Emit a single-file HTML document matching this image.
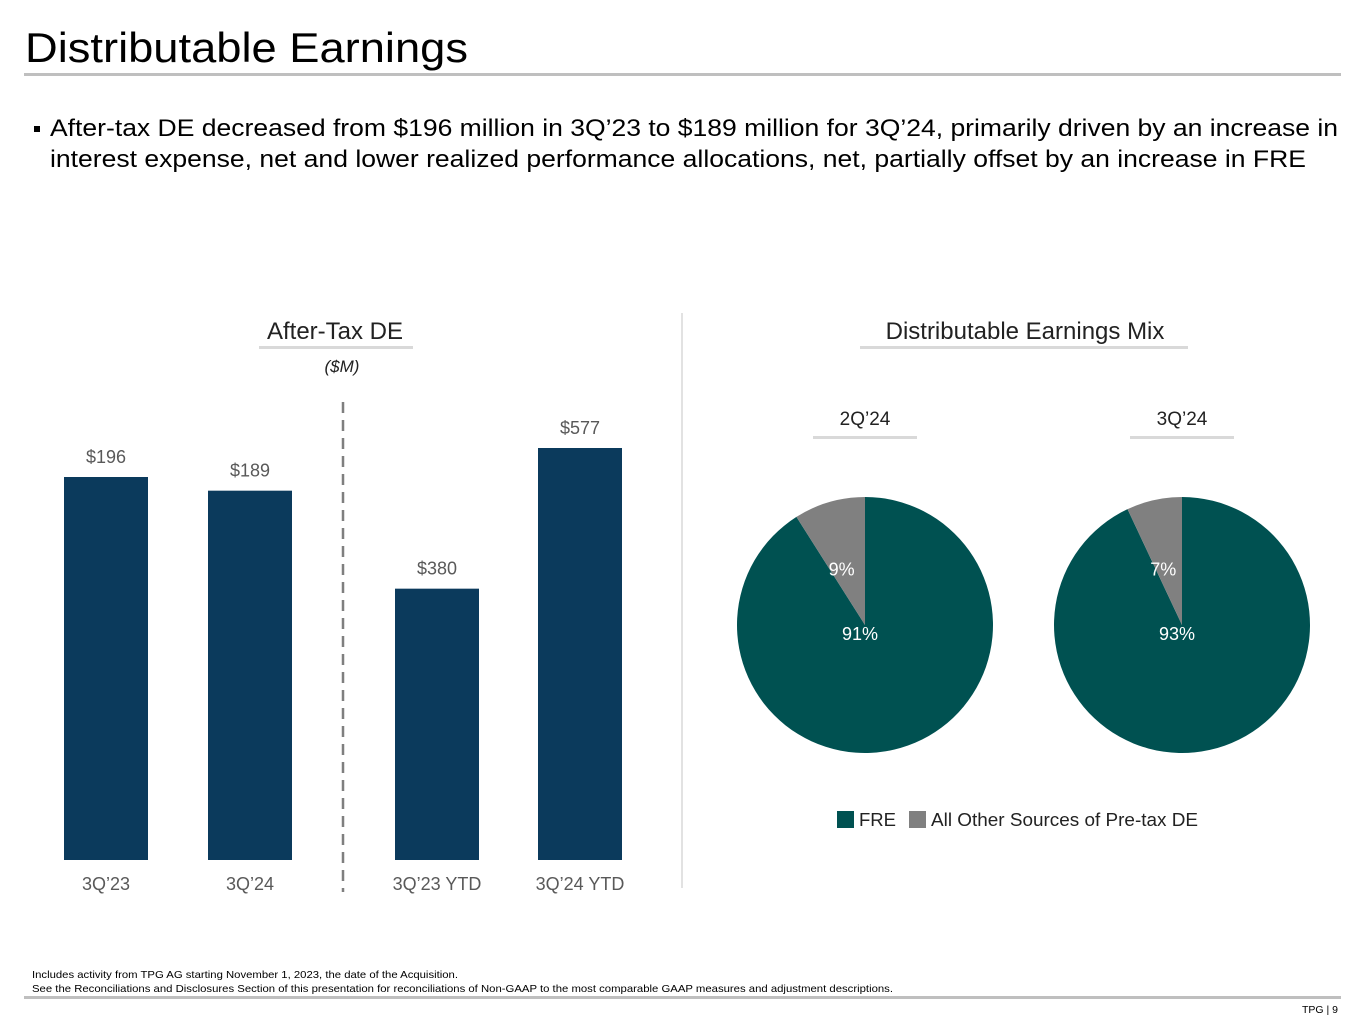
<!DOCTYPE html>
<html><head><meta charset="utf-8"><style>
html,body{margin:0;padding:0;background:#fff;}
svg{display:block;font-family:"Liberation Sans",Arial,sans-serif;}
</style></head><body>
<svg id="s" width="1365" height="1024" viewBox="0 0 1365 1024">
<text x="25" y="62" font-size="42" fill="#000" textLength="443" lengthAdjust="spacingAndGlyphs">Distributable Earnings</text>
<rect x="24" y="73" width="1317" height="3" fill="#bfbfbf"/>
<rect x="34" y="126" width="6" height="6" fill="#000"/>
<text x="50" y="136" font-size="24" fill="#000" textLength="1288" lengthAdjust="spacingAndGlyphs">After-tax DE decreased from $196 million in 3Q’23 to $189 million for 3Q’24, primarily driven by an increase in</text>
<text x="50" y="167" font-size="24" fill="#000" textLength="1256" lengthAdjust="spacingAndGlyphs">interest expense, net and lower realized performance allocations, net, partially offset by an increase in FRE</text>

<text x="335" y="339" font-size="24" fill="#222" text-anchor="middle">After-Tax DE</text>
<rect x="259" y="346" width="154" height="3" fill="#d9d9d9"/>
<text x="342" y="372" font-size="17" font-style="italic" fill="#222" text-anchor="middle">($M)</text>
<line x1="343" y1="402" x2="343" y2="892" stroke="#7f7f7f" stroke-width="2.5" stroke-dasharray="11,7"/>
<g id="bars"></g>

<line x1="682" y1="313" x2="682" y2="888" stroke="#d9d9d9" stroke-width="1.5"/>
<text x="1025" y="339" font-size="24" fill="#222" text-anchor="middle">Distributable Earnings Mix</text>
<rect x="860" y="346" width="328" height="3" fill="#d9d9d9"/>
<g id="pies"></g>

<rect x="837" y="811" width="17" height="17" fill="#005151"/>
<text x="859" y="826" font-size="18" fill="#222" textLength="37" lengthAdjust="spacingAndGlyphs">FRE</text>
<rect x="909" y="811" width="17" height="17" fill="#808080"/>
<text x="931" y="826" font-size="18" fill="#222" textLength="267" lengthAdjust="spacingAndGlyphs">All Other Sources of Pre-tax DE</text>

<text x="32" y="978" font-size="10.5" fill="#000" textLength="426" lengthAdjust="spacingAndGlyphs">Includes activity from TPG AG starting November 1, 2023, the date of the Acquisition.</text>
<text x="32" y="992" font-size="10.5" fill="#000" textLength="861" lengthAdjust="spacingAndGlyphs">See the Reconciliations and Disclosures Section of this presentation for reconciliations of Non-GAAP to the most comparable GAAP measures and adjustment descriptions.</text>
<rect x="24" y="996" width="1317" height="3" fill="#bfbfbf"/>
<text x="1338" y="1013" font-size="10.5" fill="#000" text-anchor="end">TPG | 9</text>
</svg>
<script>
const barCategories = ["3Q’23","3Q’24","3Q’23 YTD","3Q’24 YTD"];
const barValues = [196, 189, 380, 577];
const barGroups = [0, 0, 1, 1];
const pieLabels = ["2Q’24","3Q’24"];
const pieFRE = [91, 93];
const pieOther = [9, 7];

const NS = "http://www.w3.org/2000/svg";
function mk(tag, attrs, parent){const e=document.createElementNS(NS,tag);for(const k in attrs)e.setAttribute(k,attrs[k]);parent.appendChild(e);return e;}
const baseY = 860;
const groupScale = [383/196, 412/577];
function xPos(i){return [64,208,395,538][i];}
const barW = 84;
const bg = document.getElementById("bars");
barValues.forEach((v,i)=>{
  const h = v*groupScale[barGroups[i]];
  const r = mk("rect",{x:xPos(i),y:baseY-h,width:barW,height:h,fill:"#0b3a5c"},bg);
  
  
  const t = mk("text",{x:xPos(i)+barW/2,y:baseY-h-14,"font-size":18,fill:"#595959","text-anchor":"middle"},bg);
  t.textContent = "$"+v;
  
  
  const c = mk("text",{x:xPos(i)+barW/2,y:890,"font-size":18,fill:"#595959","text-anchor":"middle"},bg);
  c.textContent = barCategories[i];
  
  
});

const pg = document.getElementById("pies");
const cxs = [865, 1182], cy = 625, rx = 128, ry = 128;
pieLabels.forEach((lab,i)=>{
  const cx = cxs[i];
  const t = mk("text",{x:cx,y:425,"font-size":19,fill:"#222","text-anchor":"middle"},pg);
  t.textContent = lab;
  
  
  const u = mk("rect",{x:cx-52,y:436,width:104,height:3,fill:"#d9d9d9"},pg);
  
  
  const total = pieFRE[i]+pieOther[i];
  const a = 2*Math.PI*pieFRE[i]/total;
  const ex = cx + rx*Math.sin(a), ey = cy - ry*Math.cos(a);
  const large = pieFRE[i]/total > 0.5 ? 1 : 0;
  const p1 = mk("path",{d:`M${cx},${cy} L${cx},${cy-ry} A${rx},${ry} 0 ${large} 1 ${ex},${ey} Z`,fill:"#005151"},pg);
  
  
  const p2 = mk("path",{d:`M${cx},${cy} L${ex},${ey} A${rx},${ry} 0 ${1-large} 1 ${cx},${cy-ry} Z`,fill:"#808080"},pg);
  
  
  const mo = a + (2*Math.PI-a)/2;
  const l2 = mk("text",{x:cx+ry*0.6*Math.sin(mo)-2,y:cy-ry*0.45+8,"font-size":18,fill:"#fff","text-anchor":"middle"},pg);
  l2.textContent = pieOther[i]+"%";
  
  
  const l1 = mk("text",{x:cx-5,y:cy+15,"font-size":18,fill:"#fff","text-anchor":"middle"},pg);
  l1.textContent = pieFRE[i]+"%";
  
  
});
</script>
</body></html>
